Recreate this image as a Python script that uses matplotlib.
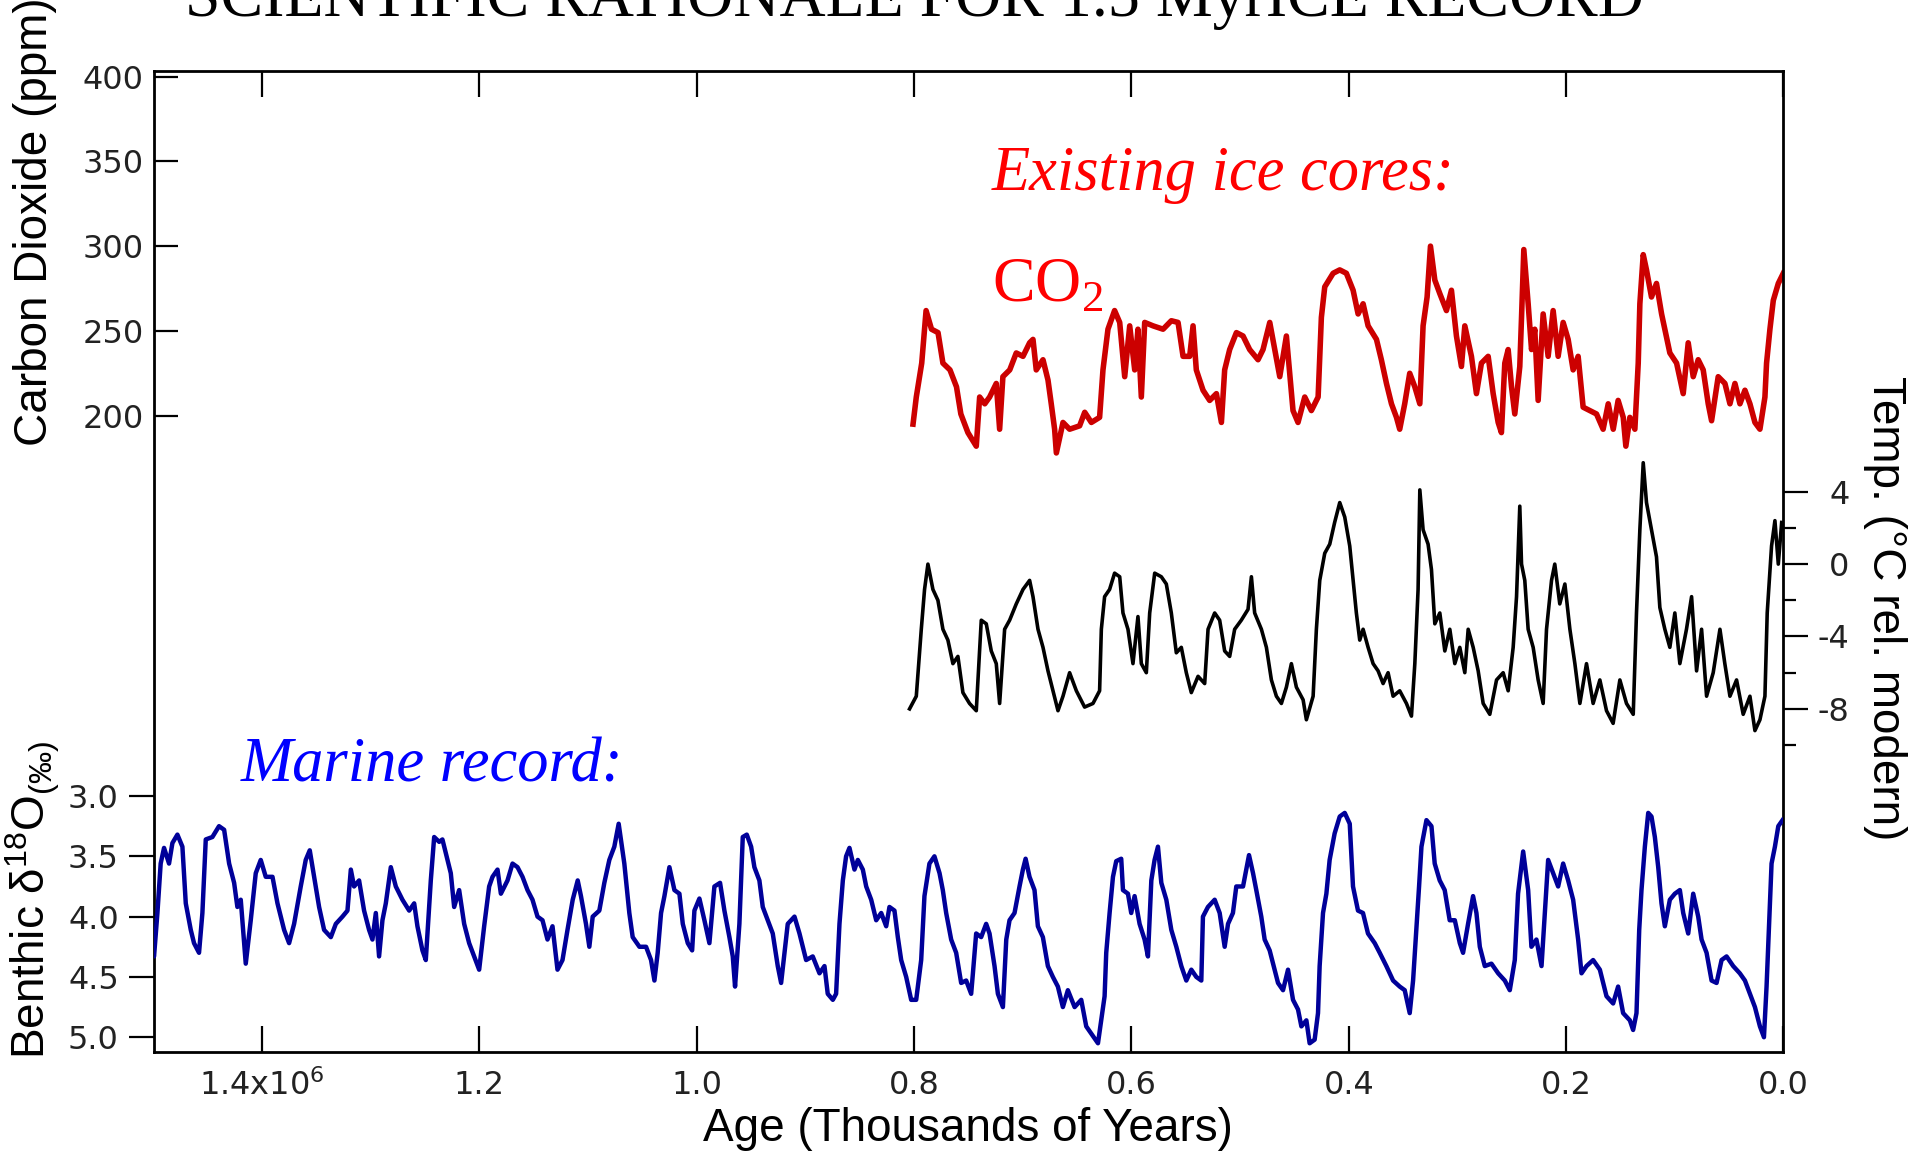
import numpy as np
import matplotlib
matplotlib.use('Agg')
import matplotlib.pyplot as plt
from matplotlib.ticker import FixedLocator

plt.rcParams['axes.unicode_minus'] = False

# ---------------------------------------------------------------
# data (age in kyr before present)
# ---------------------------------------------------------------
co2_age = [801, 798, 793, 789, 784, 778, 773.5, 767, 761, 757, 750.5, 742.8, 739.7, 735, 730.5,
           724.4, 721.3, 718.3, 712, 706, 699.8, 693.7, 690.6, 687.6, 681.4, 676.8, 673.8, 670.7,
           669.1, 663, 656.9, 647.7, 643, 636.9, 629.3, 626.2, 621.6, 615.5, 610.8, 606.2, 601.6,
           597, 594, 590.9, 587.8, 580.2, 570.9, 563.3, 557.1, 552.5, 546.4, 543.3, 540.3, 534.1,
           528, 521.8, 517.2, 514.2, 509.6, 503.4, 497.3, 491.2, 483.5, 478.9, 472.7, 468.1,
           463.5, 457.4, 454.3, 451.3, 446.7, 440.5, 434.4, 428.2, 425.2, 422.1, 414.4, 408.3,
           402.2, 396, 391.4, 386.8, 382.2, 374.5, 370, 365.3, 360.7, 356.1, 353.1, 348.5, 343.9,
           339.2, 334.6, 331.6, 327.9, 324.8, 320.8, 316.2, 310.1, 305.5, 300.9, 296.3, 293.2,
           287.1, 282.5, 277.9, 271.7, 267.1, 262.5, 259.5, 256.4, 253.3, 250.2, 247.2, 242.6,
           241, 238.9, 234.9, 231.8, 228.8, 225.7, 221.1, 216.5, 211.9, 207.3, 202.7, 198.1,
           193.5, 188.9, 184.3, 178.1, 172, 165.9, 161.2, 156.6, 152.1, 147.4, 145, 141.3, 136.7,
           133.6, 132.1, 129, 126, 121.4, 116.8, 112.1, 109.1, 104.5, 98.3, 92.2, 87.6, 83, 78.4,
           73.8, 69.2, 66.1, 60, 53.8, 49.2, 44.6, 40, 35.4, 30.8, 26.2, 21.6, 17, 15.5, 12.4,
           9.3, 4.7, 0.1]
co2_ppm = [195, 211, 231, 262, 251, 249, 231, 227, 217, 201, 190, 182, 211, 207, 211,
           219, 192, 223, 227, 237, 235, 243, 245, 227, 233, 221, 207, 192,
           178, 196, 192, 194, 202, 196, 199, 227, 251, 262, 255, 223, 253,
           227, 251, 211, 255, 253, 251, 256, 255, 235, 235, 253, 227, 215,
           209, 213, 196, 227, 239, 249, 247, 239, 233, 239, 255, 239,
           223, 247, 225, 203, 196, 211, 203, 211, 258, 276, 284, 286,
           284, 274, 260, 266, 253, 245, 233, 219, 207, 199, 192, 207, 225,
           217, 207, 253, 270, 300, 280, 272, 262, 274, 247, 229, 253,
           235, 213, 231, 235, 213, 196, 190, 231, 239, 217, 201, 229,
           258, 298, 266, 239, 251, 209, 260, 235, 262, 235, 255, 245,
           227, 235, 205, 203, 201, 192, 207, 192, 209, 199, 182, 199, 192,
           231, 266, 295, 286, 270, 278, 260, 251, 237, 231, 213, 243, 223, 233,
           227, 207, 197, 223, 219, 207, 219, 207, 215, 207, 196, 192, 211, 231, 251,
           268, 278, 284]

temp_age = [804.2, 798, 793.4, 790.4, 787.3, 782.7, 778.1, 773.5, 768.9, 764.3, 759.7, 755.1, 749,
            742.8, 738.2, 733.6, 729, 724.4, 721.3, 716.7, 712.1, 706, 699.8, 693.7, 690.6, 686,
            681.4, 676.8, 672.2, 667.6, 663, 656.9, 650.7, 643.1, 635.4, 629.3, 627.7, 624.7,
            620.1, 615.5, 610.8, 607.8, 603.2, 598.6, 594, 590.9, 586.3, 583.2, 578.6, 572.5,
            567.9, 563.3, 558.7, 554.1, 549.5, 544.9, 538.7, 532.6, 529.5, 523.4, 518.8, 514.2,
            509.6, 505, 498.9, 492.7, 489.6, 486.6, 480.4, 475.8, 471.2, 466.6, 462, 457.4,
            452.8, 448.2, 442, 439, 432.8, 429.8, 426.7, 422.1, 417.5, 413, 408.3, 403.7, 399.1,
            396, 393, 389.9, 386.8, 382.2, 377.6, 373, 368.4, 363.8, 359.2, 353.1, 346.9, 342.3,
            339.2, 336.2, 334.6, 331.6, 327, 323.9, 320.8, 316.2, 311.6, 307, 302.4, 297.8,
            293.2, 290.1, 285.5, 280.9, 276.3, 270.2, 264, 257.9, 253.3, 248.7, 245.6, 242.6,
            241, 238, 234.9, 230.3, 225.7, 221.1, 218, 213.4, 210.4, 205.8, 201.1, 196.5, 191.9,
            187.3, 181.2, 175.1, 168.9, 162.8, 156.7, 150.5, 144.4, 138.2, 135.2, 132.1, 129,
            126, 121.4, 116.8, 113.7, 109.1, 104.5, 99.9, 95.3, 89.2, 84.5, 79.9, 75.3, 70.7,
            64.6, 58.4, 53.9, 49.2, 43.1, 37, 30.8, 26.2, 21.6, 17, 14.9, 10.9, 7.8, 4.7, 1.6]
temp_c = [-8.0, -7.3, -3.6, -1.4, 0.0, -1.4, -2.0, -3.6, -4.2, -5.5, -5.1, -7.1, -7.7,
          -8.1, -3.1, -3.3, -4.8, -5.5, -7.7, -3.6, -3.1, -2.2, -1.4, -0.9, -1.8, -3.6,
          -4.6, -5.9, -7.0, -8.1, -7.3, -6.0, -7.0, -7.9, -7.7, -7.0, -3.6, -1.8,
          -1.4, -0.5, -0.7, -2.7, -3.6, -5.5, -2.9, -5.5, -6.0, -2.7, -0.5, -0.7,
          -1.1, -2.7, -4.9, -4.6, -6.0, -7.1, -6.2, -6.6, -3.6, -2.7, -3.1, -4.8,
          -5.1, -3.6, -3.1, -2.5, -0.7, -2.7, -3.6, -4.6, -6.4, -7.3, -7.7, -6.8,
          -5.5, -6.8, -7.5, -8.6, -7.3, -3.6, -0.9, 0.6, 1.1, 2.3, 3.4, 2.6, 1.0,
          -0.9, -2.7, -4.2, -3.6, -4.6, -5.5, -5.9, -6.6, -6.0, -7.3, -7.0, -7.7, -8.4,
          -5.5, -1.4, 4.1, 1.9, 1.1, -0.3, -3.3, -2.7, -4.8, -3.6, -5.5, -4.6,
          -6.0, -3.6, -4.6, -5.9, -7.7, -8.3, -6.4, -6.0, -7.0, -4.6, -1.8, 3.2,
          0.0, -0.9, -3.6, -4.6, -6.4, -7.7, -3.6, -0.9, 0.0, -2.2, -1.1, -3.6, -5.5,
          -7.7, -5.5, -7.7, -6.4, -8.1, -8.8, -6.4, -7.7, -8.3, -2.7, 1.9, 5.6,
          3.4, 1.9, 0.4, -2.4, -3.6, -4.6, -2.7, -5.5, -3.6, -1.8, -5.9, -3.6, -7.3,
          -6.0, -3.6, -5.5, -7.3, -6.4, -8.3, -7.3, -9.2, -8.6, -7.3, -2.7, 1.0, 2.4, 0.0, 2.3]

benthic_age = [1502.6, 1499.5, 1496.4, 1493.4, 1490.3, 1485.7, 1482.6, 1478, 1473.4, 1470.3,
               1465.7, 1462.7, 1458.1, 1455, 1451.9, 1445.8, 1439.7, 1435, 1430.4, 1425.8,
               1422.8, 1419.7, 1415.1, 1410.5, 1405.9, 1401.3, 1396.7, 1390.5, 1385.9, 1379.8,
               1375.2, 1370.6, 1364.5, 1359.9, 1356.2, 1352.2, 1347.6, 1343, 1336.8, 1332.2,
               1326.1, 1321.5, 1318.4, 1315.4, 1310.8, 1306.2, 1301.6, 1298.5, 1295.4, 1292.4,
               1289.3, 1286.2, 1281.6, 1277, 1270.9, 1264.7, 1260.1, 1257.1, 1252.5, 1249.4,
               1244.8, 1241.7, 1237.1, 1234.1, 1229.4, 1226.4, 1223.3, 1218.7, 1214.1, 1209.5,
               1204.9, 1200.3, 1195.7, 1191.1, 1188, 1183.4, 1180.3, 1174.2, 1169.6, 1165,
               1160.4, 1155.8, 1151.2, 1146.6, 1142, 1137.4, 1132.8, 1128.2, 1123.6, 1119,
               1114.2, 1109.6, 1106.6, 1102, 1098.9, 1095.8, 1089.7, 1085.1, 1080.5, 1075.9,
               1071.9, 1066.7, 1062.1, 1059, 1052.8, 1046.7, 1042.1, 1039, 1036, 1032.9, 1029.8,
               1025.2, 1020.6, 1016, 1012.9, 1008.3, 1004.3, 1002.2, 997.6, 993, 988.4, 983.8,
               978.6, 974.6, 970, 966.9, 964.8, 960.8, 957.7, 954, 950, 947, 942.4, 939.3,
               934.7, 930.1, 925.5, 922.4, 919.3, 916.3, 910.1, 905.5, 899.4, 893.3, 887.1,
               882.5, 879.5, 874.8, 871.8, 868.7, 865.6, 862.6, 859.5, 854.9, 851.8, 847.2,
               844.1, 839.5, 834.9, 830.3, 825.7, 822.7, 818.1, 815, 811.9, 807.3, 802.7, 798.1,
               793.5, 790.5, 785.9, 781.3, 776.6, 773.6, 770.5, 765.9, 761.3, 756.7, 752.1,
               747.5, 745.9, 742.9, 738.3, 733.7, 730.6, 726, 722.9, 718.3, 715.2, 712.2, 707.6,
               703, 699.9, 697.4, 693.8, 689.2, 686.1, 681.5, 676.9, 672.3, 667.7, 663.1, 658.5,
               652.3, 646.2, 641.6, 637, 630.8, 627.8, 624.7, 623.2, 620.1, 617, 614, 609.4,
               607.8, 603.2, 600.2, 597.1, 592.5, 587.9, 584.8, 581.7, 578.7, 575.6, 572.5,
               567.9, 563.3, 558.7, 554.1, 549.5, 544.9, 540.3, 535.7, 534.2, 529.6, 523.4,
               518.8, 514.2, 511.1, 506.6, 503.5, 497.3, 491.8, 488.1, 485.1, 480.5, 477.4,
               472.8, 469.7, 465.1, 460.5, 455.9, 451.3, 446.7, 443.6, 439, 436, 431.4, 428.3,
               426.8, 423.7, 420.6, 417.6, 413, 408.3, 403.7, 399.1, 396.1, 391.5, 386.9, 382.3,
               376.1, 371.5, 365.4, 359.2, 353.1, 348.5, 343.9, 340.8, 338.4, 335.3, 333.1,
               328.5, 323.9, 320.9, 316.3, 311.7, 307.1, 302.4, 297.8, 294.8, 290.2, 285.6,
               282.5, 279.4, 274.8, 268.7, 262.5, 256.4, 251.8, 247.2, 244.2, 239.5, 234.9,
               231.9, 227.3, 222.6, 219.6, 216.5, 211.9, 207.3, 202.7, 198.1, 193.5, 188.9,
               185.8, 181.2, 175.1, 168.9, 162.8, 156.7, 152.1, 147.5, 141.3, 138.3, 135.2,
               132.7, 130.6, 127.5, 124.4, 121.4, 118.3, 115.2, 112.2, 109.1, 104.5, 99.9, 95.3,
               92.2, 87.6, 83, 78.4, 75.3, 70.7, 66.1, 61.5, 56.9, 52.3, 46.2, 40.1, 35.4, 30.8,
               26.2, 21.6, 17.9, 15.5, 13, 10.9, 7.8, 4.7, 0.8]
benthic_d18o = [4.25, 4.33, 3.97, 3.56, 3.43, 3.56, 3.39, 3.32, 3.42, 3.89,
                4.11, 4.22, 4.30, 3.97, 3.36, 3.34, 3.25, 3.28, 3.56, 3.72,
                3.92, 3.86, 4.39, 4.03, 3.64, 3.53, 3.67, 3.67, 3.89, 4.11,
                4.22, 4.06, 3.75, 3.53, 3.45, 3.67, 3.92, 4.11, 4.17, 4.06,
                4.00, 3.95, 3.61, 3.75, 3.70, 3.95, 4.11, 4.19, 3.97, 4.33,
                4.03, 3.89, 3.59, 3.75, 3.86, 3.95, 3.89, 4.08, 4.28, 4.36,
                3.70, 3.34, 3.38, 3.36, 3.53, 3.64, 3.92, 3.78, 4.06, 4.22,
                4.33, 4.44, 4.08, 3.75, 3.67, 3.61, 3.81, 3.70, 3.56, 3.59,
                3.67, 3.78, 3.86, 4.00, 4.03, 4.19, 4.08, 4.44, 4.36, 4.11,
                3.86, 3.70, 3.83, 4.06, 4.25, 4.00, 3.95, 3.72, 3.53, 3.42,
                3.23, 3.56, 3.97, 4.17, 4.25, 4.25, 4.36, 4.53, 4.30, 3.97, 3.83,
                3.59, 3.78, 3.81, 4.06, 4.22, 4.28, 3.95, 3.85, 4.03, 4.22, 3.75,
                3.72, 3.95, 4.17, 4.33, 4.58, 4.06, 3.34, 3.32, 3.42, 3.59, 3.70, 3.92,
                4.03, 4.14, 4.41, 4.55, 4.30, 4.06, 4.00, 4.14, 4.36, 4.33, 4.47,
                4.41, 4.64, 4.69, 4.64, 4.06, 3.70, 3.50, 3.43, 3.61, 3.53, 3.61,
                3.75, 3.86, 4.03, 3.97, 4.08, 3.92, 3.95, 4.17, 4.36, 4.50, 4.69, 4.69,
                4.36, 3.83, 3.56, 3.50, 3.64, 3.78, 3.97, 4.19, 4.30, 4.55, 4.53,
                4.64, 4.47, 4.14, 4.17, 4.06, 4.14, 4.41, 4.64, 4.75, 4.19, 4.03, 3.97,
                3.75, 3.61, 3.52, 3.67, 3.78, 4.08, 4.17, 4.41, 4.50, 4.58, 4.75, 4.61,
                4.75, 4.69, 4.91, 4.97, 5.05, 4.86, 4.66, 4.30, 3.97, 3.67, 3.54, 3.52,
                3.78, 3.81, 3.97, 3.83, 4.06, 4.19, 4.33, 3.70, 3.53, 3.42, 3.72,
                3.86, 4.11, 4.25, 4.41, 4.53, 4.44, 4.50, 4.53, 4.00, 3.92, 3.86,
                3.97, 4.25, 4.06, 3.97, 3.75, 3.75, 3.49, 3.64, 3.78, 4.00, 4.19,
                4.28, 4.39, 4.55, 4.61, 4.44, 4.69, 4.77, 4.91, 4.86, 5.05, 5.02, 4.80,
                4.41, 3.97, 3.81, 3.53, 3.31, 3.17, 3.14, 3.23, 3.75, 3.95, 3.97, 4.14,
                4.22, 4.30, 4.41, 4.53, 4.58, 4.61, 4.80, 4.53, 4.19, 3.75, 3.42,
                3.20, 3.25, 3.56, 3.70, 3.78, 4.03, 4.03, 4.22, 4.30, 4.06, 3.83,
                3.97, 4.25, 4.41, 4.39, 4.47, 4.53, 4.61, 4.36, 3.81, 3.46, 3.78,
                4.25, 4.19, 4.41, 3.97, 3.53, 3.64, 3.75, 3.56, 3.70, 3.86, 4.19,
                4.47, 4.41, 4.36, 4.44, 4.66, 4.72, 4.58, 4.80, 4.86, 4.94, 4.80,
                4.11, 3.78, 3.42, 3.14, 3.17, 3.34, 3.59, 3.89, 4.08, 3.86, 3.81, 3.78,
                3.97, 4.14, 3.81, 4.00, 4.19, 4.30, 4.53, 4.55, 4.36, 4.33, 4.41, 4.47, 4.53, 4.64,
                4.75, 4.91, 5.00, 4.58, 4.03, 3.56, 3.42, 3.25, 3.20]

x_ticks = [1400, 1200, 1000, 800, 600, 400, 200, 0]
x_ticklabels = ['1.4x10$^{6}$', '1.2', '1.0', '0.8', '0.6', '0.4', '0.2', '0.0']
co2_ticks = [200, 250, 300, 350, 400]
d18o_ticks = [3.0, 3.5, 4.0, 4.5, 5.0]
temp_ticks = [4, 0, -4, -8]
temp_minor = [2, -2, -6, -10]

# ---------------------------------------------------------------
# figure
# ---------------------------------------------------------------
W, H = 1925., 1155.
fig = plt.figure(figsize=(W / 100, H / 100), dpi=100)
left, right, top, bottom = 153.5, 1783.4, 70.7, 1051.7
ax = fig.add_axes([left / W, 1 - bottom / H, (right - left) / W, (bottom - top) / H])
ax_t = ax.twinx()
ax_b = ax.twinx()

# CO2 (main axes)
ax.plot(co2_age, co2_ppm, color='#cc0000', lw=4.0)
ax.set_ylim(-175.2, 403.5)
ax.set_xlim(1500, 0)
ax.set_yticks(co2_ticks)
ax.set_xticks(x_ticks)
ax.set_xticklabels(x_ticklabels)
ax.tick_params(axis='x', direction='in', length=19, width=1.6, top=True, bottom=True,
               labelsize=23, pad=13, labelcolor='#222222')
ax.tick_params(axis='y', direction='in', length=17, width=1.6, left=True, right=False,
               labelsize=23, pad=7, labelcolor='#222222')
for s in ax.spines.values():
    s.set_linewidth(2.0)

# temperature (right)
ax_t.plot(temp_age, temp_c, color='black', lw=2.6)
ax_t.set_ylim(-26.94, 27.26)
ax_t.yaxis.set_major_locator(FixedLocator(temp_ticks))
ax_t.yaxis.set_minor_locator(FixedLocator(temp_minor))
ax_t.tick_params(axis='y', which='major', direction='out', length=18, width=1.6,
                 labelsize=23, pad=29.5, labelcolor='#222222')
ax_t.tick_params(axis='y', which='minor', direction='out', length=9.5, width=1.6)
for lab in ax_t.get_yticklabels():
    lab.set_horizontalalignment('right')
for s in ax_t.spines.values():
    s.set_visible(False)

# benthic d18O (left, inverted)
ax_b.plot(benthic_age, benthic_d18o, color='#000099', lw=3.2)
ax_b.set_ylim(5.12, -3.014)
ax_b.set_yticks(d18o_ticks)
ax_b.set_yticklabels(['%.1f' % v for v in d18o_ticks])
ax_b.yaxis.tick_left()
ax_b.tick_params(axis='y', direction='out', length=18, width=1.6, labelsize=23, pad=7,
                 labelcolor='#222222')
for s in ax_b.spines.values():
    s.set_visible(False)

# axis labels
lab_font = dict(family='Liberation Sans', size=33)
fig.text(35 / W, 1 - 222 / H, 'Carbon Dioxide (ppm)', rotation=90, ha='center', va='center', **lab_font)
fig.text(33 / W, 1 - 900 / H, r'Benthic δ$^{\mathregular{18}}$O$_{\mathregular{(‰)}}$', rotation=90,
         ha='center', va='center', **lab_font)
fig.text(1885 / W, 1 - 608 / H, 'Temp. (°C rel. modern)', rotation=-90, ha='center', va='center', **lab_font)
fig.text(968 / W, 1 - 1129 / H, 'Age (Thousands of Years)', ha='center', va='center', **lab_font)

# title (clipped at top like the slide) and annotations
serif = 'Liberation Serif'
fig.text(914 / W, 1 - 16 / H, 'SCIENTIFIC RATIONALE FOR 1.5 MyrICE RECORD', ha='center', va='baseline',
         family=serif, size=46)
fig.text(992 / W, 1 - 190 / H, 'Existing ice cores:', color='#ff0000', style='italic', family=serif,
         size=45, ha='left', va='baseline')
fig.text(992 / W, 1 - 301 / H, r'CO$_{\mathregular{2}}$', color='#ff0000', family=serif, size=46,
         ha='left', va='baseline')
fig.text(241 / W, 1 - 782 / H, 'Marine record:', color='#0000ff', style='italic', family=serif,
         size=45, ha='left', va='baseline')

plt.savefig('out.png', dpi=100)
